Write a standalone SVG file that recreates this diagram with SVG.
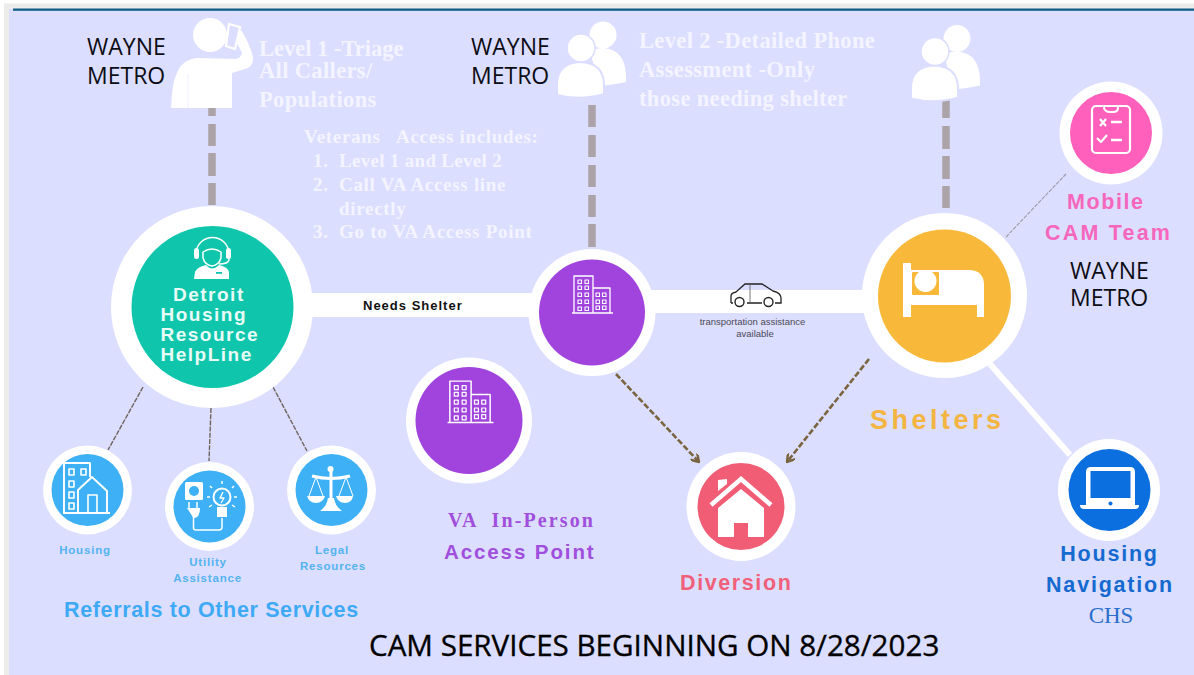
<svg xmlns="http://www.w3.org/2000/svg" width="1194" height="675" viewBox="0 0 1194 675">
<style>
.w{font-family:"Open Sans","Liberation Sans",sans-serif;font-size:23px;fill:#0c0c14}
.s{font-family:"Liberation Serif",serif;font-weight:700;fill:#f3f4ff;font-size:22.5px;letter-spacing:.35px}
.l{font-family:"Liberation Sans",Arial,sans-serif;font-weight:700}
.i{fill:none;stroke:#fff;stroke-linejoin:round}
.ring{fill:#fff}
</style>
<defs>
<marker id="ah" viewBox="0 0 10 10" refX="9" refY="5" markerWidth="3.600" markerHeight="3.600" orient="auto"><path d="M1 0L9 5L1 10" fill="none" stroke="#7a6540" stroke-width="2.600"/></marker>
<g id="people"><circle cx="603" cy="35" r="13.500" fill="#fff"/><path d="M590 52Q594 48 604 48Q626 50 626 78L626 82Q618 84 600 86Z" fill="#fff"/><path d="M557 95L557 85Q557 63 580 62Q604 63 604 85L604 94Q580 101 557 95Z" fill="#fff" stroke="#dcdeff" stroke-width="2"/><circle cx="581" cy="48" r="14" fill="#fff" stroke="#dcdeff" stroke-width="1.500"/></g>
<g id="bld">
<path class="i" stroke-width="1.300" d="M-20 13H21M-18 13V-24H1V13M1 -12H18V13"/>
<path class="i" stroke-width="1.100" d="M-14 -20h3.500v3.500h-3.500zM-7 -20h3.500v3.500h-3.500zM-14 -14h3.500v3.500h-3.500zM-7 -14h3.500v3.500h-3.500zM-14 -7h3.500v3.500h-3.500zM-7 -7h3.500v3.500h-3.500zM-14 0h3.500v3.500h-3.500zM-7 0h3.500v3.500h-3.500zM-14 7h3.500v3.500h-3.500zM-7 7h3.500v3.500h-3.500zM4 -7h3.500v3.500h-3.500zM10.500 -7h3.500v3.500h-3.500zM4 0h3.500v3.500h-3.500zM10.500 0h3.500v3.500h-3.500zM4 6h3.500v3.500h-3.500zM10.500 6h3.500v3.500h-3.500z"/>
</g>
</defs>
<rect width="1194" height="675" fill="#fff"/>
<rect x="4" y="3.500" width="1190" height="671.500" fill="#ececea"/>
<rect x="9" y="9" width="1185" height="666" fill="#dcdeff"/>
<rect x="13" y="8.500" width="1181" height="2.300" fill="#145f86"/>

<g id="connectors">
<rect x="305" y="293" width="230" height="24" fill="#fff"/>
<rect x="645" y="290" width="225" height="23" fill="#fff"/>
<path d="M990 364L1070 455" stroke="#fff" stroke-width="6"/>
<path d="M212 108V116M212 124V146M212 153V176M212 183V205" stroke="#aba3a8" stroke-width="7.500"/>
<path d="M592 105V127M592 135V157M592 165V187M592 195V217M592 224V247" stroke="#aba3a8" stroke-width="7.500"/>
<path d="M946 100V118M946 126V149M946 156V179M946 186V208" stroke="#aba3a8" stroke-width="7.500"/>
<g fill="none" stroke="#6f6460" stroke-width="1.400" stroke-dasharray="5 1.200">
<path d="M143 387L108 450"/><path d="M211 408L209 461"/><path d="M273 387L307 451"/>
</g>
<path d="M1006 237L1066 174" fill="none" stroke="#9a9aa6" stroke-width="1.100" stroke-dasharray="4 1.200"/>
<path d="M616 374L699 462" fill="none" stroke="#7a6540" stroke-width="2.600" stroke-dasharray="6 2.200" marker-end="url(#ah)"/>
<path d="M869 359L787 462" fill="none" stroke="#7a6540" stroke-width="2.600" stroke-dasharray="6 2.200" marker-end="url(#ah)"/>
</g>

<g id="caller">
<path d="M171 108L172 93Q174 76 180 67Q186 59 197 58L236 59Q241 58 242 53L234 37L241 30Q250 44 253 57Q254 64 248 68L232 73V108Z" fill="#fff"/>
<path d="M188 108V74" stroke="#eef0ff" stroke-width="1"/>
<path d="M229 24L240 27L235 49L226 46Z" fill="#dcdeff" stroke="#fff" stroke-width="2.200"/>
<circle cx="210" cy="35" r="17" fill="#fff"/>
<text class="w" x="87" y="55">WAYNE</text><text class="w" x="87" y="84">METRO</text>
</g>
<g id="level1" class="s"><text x="259" y="56" style="letter-spacing:0">Level 1 -Triage</text><text x="259" y="78">All Callers/</text><text x="259" y="107">Populations</text></g>
<g id="veterans" class="s" style="font-size:19px;letter-spacing:.7px">
<text x="304" y="143" xml:space="preserve">Veterans   Access includes:</text>
<text x="313" y="167">1.</text><text x="339" y="167" style="letter-spacing:.3px">Level 1 and Level 2</text>
<text x="313" y="191">2.</text><text x="339" y="191">Call VA Access line</text>
<text x="339" y="215">directly</text>
<text x="313" y="238">3.</text><text x="339" y="238">Go to VA Access Point</text>
</g>
<g id="level2-people"><use href="#people"/><text class="w" x="471" y="55">WAYNE</text><text class="w" x="471" y="84">METRO</text></g>
<g id="level2" class="s"><text x="639" y="48">Level 2 -Detailed Phone</text><text x="639" y="77">Assessment -Only</text><text x="639" y="106">those needing shelter</text></g>
<g id="shelter-people"><use href="#people" x="354" y="3.500"/></g>

<g id="helpline">
<circle class="ring" cx="212" cy="307" r="101"/><circle cx="212.500" cy="307" r="81" fill="#0fc6ad"/>
<path d="M196 258V254A16.500 16.500 0 0 1 229 254V260Q228 264 219 264" class="i" stroke-width="1.400"/>
<rect x="194" y="248" width="5" height="11" rx="2.500" fill="#fff"/><rect x="226" y="248" width="5" height="11" rx="2.500" fill="#fff"/>
<path d="M203 252Q212 246 221 252V258Q219 265 212 266Q205 265 203 258Z" class="i" stroke-width="1.500"/>
<path d="M194 279L195 272Q197 267 206 265Q212 272 219 265Q228 267 229 272V279Z" fill="#fff"/>
<rect x="216" y="272" width="6" height="1.800" fill="#0fc6ad"/>
<g class="l" fill="#e8fbf6" font-size="19px" letter-spacing="1.500"><text x="173" y="301">Detroit</text><text x="160.500" y="321">Housing</text><text x="160.500" y="341">Resource</text><text x="160.500" y="361">HelpLine</text></g>
</g>
<g id="needs-shelter"><text class="l" x="363" y="310" font-size="13px" letter-spacing="1" fill="#111">Needs Shelter</text></g>

<g id="access-point">
<circle class="ring" cx="592" cy="312.500" r="63.500"/><circle cx="592" cy="312.500" r="53" fill="#a044dd"/>
<use href="#bld" x="592" y="300"/>
</g>
<g id="transport">
<path d="M731 303V296Q731 293 736 292L745 284H762L773 291Q781 293 781 298V303H775M762 303H747M733 303H731" fill="none" stroke="#222" stroke-width="1.300"/>
<path d="M750 284V303" stroke="#555" stroke-width=".8"/>
<circle cx="739.500" cy="302" r="4.500" fill="#fff" stroke="#222" stroke-width="1.400"/><circle cx="768.500" cy="302" r="4.500" fill="#fff" stroke="#222" stroke-width="1.400"/>
<g font-family="'Liberation Sans',Arial,sans-serif" font-size="9.500px" fill="#4a4a55" text-anchor="middle"><text x="752.500" y="325">transportation assistance</text><text x="755" y="337">available</text></g>
</g>
<g id="shelters">
<circle class="ring" cx="944.500" cy="295.500" r="82.500"/><circle cx="944.500" cy="296" r="66.500" fill="#f8b93b"/>
<path d="M903 263H911V270H970Q984 271 984 285V317H977V305H911V317H903Z" fill="#fff"/>
<rect x="912" y="272" width="27" height="23" rx="1" fill="#f8b93b"/>
<circle cx="925.500" cy="281" r="11" fill="#fff"/>
<text class="l" x="870" y="429" font-size="27px" letter-spacing="3.500" fill="#f3b540">Shelters</text>
</g>
<g id="mobile">
<circle class="ring" cx="1111" cy="133" r="51.500"/><circle cx="1111" cy="133" r="41" fill="#ff60bb"/>
<rect x="1092" y="106" width="38" height="47" rx="4" class="i" stroke-width="2.200"/>
<path d="M1104 106V108Q1105 112 1110 112H1113Q1118 112 1118 108V106" class="i" stroke-width="2"/>
<path d="M1100 119L1106 126M1106 119L1100 126M1097 138L1101 142L1107 135" class="i" stroke-width="2.200"/>
<path d="M1111 122H1122M1111 140H1122" class="i" stroke-width="2.500"/>
<g class="l" fill="#f567bd" font-size="21.500px" letter-spacing="1.600"><text x="1067" y="209">Mobile</text><text x="1045" y="240" letter-spacing="2.200">CAM Team</text></g>
<text class="w" x="1070" y="279">WAYNE</text><text class="w" x="1070" y="306">METRO</text>
</g>
<g id="nav">
<circle class="ring" cx="1109" cy="490" r="51"/><circle cx="1109.500" cy="490" r="41" fill="#0c6fe0"/>
<path d="M1086 506V472Q1086 467 1091 467H1130Q1135 467 1135 472V506Z" fill="#fff"/>
<rect x="1090.500" y="471" width="40" height="27" fill="#0c6fe0"/>
<path d="M1080 505H1139Q1139 509 1135 509H1084Q1080 509 1080 505Z" fill="#fff"/>
<circle cx="1110.500" cy="503.500" r="2" fill="#0c6fe0"/>
<g class="l" fill="#156ad0" font-size="21.500px" letter-spacing="1.800" text-anchor="middle"><text x="1109.500" y="561">Housing</text><text x="1110" y="592">Navigation</text></g>
<text x="1111" y="623" font-family="'Liberation Serif',serif" font-size="23px" fill="#2a6fcc" text-anchor="middle">CHS</text>
</g>
<g id="diversion">
<circle class="ring" cx="741" cy="506.500" r="54.500"/><circle cx="741" cy="506.500" r="43.500" fill="#f05d74"/>
<path d="M718 480V491L727 484V479Z" fill="#fff"/>
<path d="M711 505L741 479L771 505" fill="none" stroke="#fff" stroke-width="4.500"/>
<path d="M718 537V508L741 489L764 508V537H748V523H734V537Z" fill="#fff"/>
<text class="l" x="680" y="590" font-size="21.500px" letter-spacing="1.600" fill="#f0607a">Diversion</text>
</g>
<g id="va-point">
<circle class="ring" cx="469" cy="420.500" r="63"/><circle cx="469" cy="420.500" r="53.500" fill="#a044dd"/>
<use href="#bld" transform="translate(470 408) scale(1.120)"/>
<text x="448" y="527" font-family="'Liberation Serif',serif" font-weight="700" font-size="20px" letter-spacing="2.100" fill="#a04fdd" xml:space="preserve">VA  In-Person</text>
<text class="l" x="444" y="559" font-size="20.500px" letter-spacing="1.900" fill="#a04fdd">Access Point</text>
</g>
<g id="housing">
<circle class="ring" cx="87.500" cy="490" r="44.500"/><circle cx="87.500" cy="490" r="36" fill="#3eb0f5"/>
<path d="M64 463H90V477M64 463V513M63 513H110M78 513V490L92 477L107 491V513" class="i" stroke-width="1.900"/>
<path d="M69 469h5v6h-5zM81 469h5v6h-5zM69 481h5v6h-5zM69 492h5v6h-5zM69 503h5v6h-5zM88 495h9v18h-9z" class="i" stroke-width="1.600"/>
<text class="l" x="85" y="554" font-size="11.500px" letter-spacing=".8" fill="#52b4f2" text-anchor="middle">Housing</text>
</g>
<g id="utility">
<circle class="ring" cx="209.500" cy="506.500" r="44.500"/><circle cx="209.500" cy="506.500" r="36" fill="#3eb0f5"/>
<rect x="185" y="482" width="18" height="18" rx="1.500" fill="#fff"/><circle cx="194" cy="491" r="5" fill="#3eb0f5"/>
<path d="M189 502V508M197 502V508" class="i" stroke-width="1.500"/>
<path d="M187 508H200Q200 518 193.500 518Z" fill="#fff"/>
<path d="M193.500 516V528Q193.500 530 196 530H219Q222 530 222 527V518" class="i" stroke-width="1.500"/>
<circle cx="222" cy="497" r="8.500" class="i" stroke-width="2"/>
<path d="M217 507H227V517H217Z" fill="#fff"/>
<path d="M223 492L220 498H224L221 503" class="i" stroke-width="1.300"/>
<path d="M222 481V484M210 486L212 488M234 486L232 488M207 497H210M234 497H237M209 507L212 505M235 507L232 505" class="i" stroke-width="1.500"/>
<g class="l" font-size="11.500px" letter-spacing=".8" fill="#52b4f2" text-anchor="middle"><text x="208" y="566">Utility</text><text x="207.500" y="582">Assistance</text></g>
</g>
<g id="legal">
<circle class="ring" cx="331.500" cy="490" r="44.500"/><circle cx="331.500" cy="490" r="36" fill="#3eb0f5"/>
<path d="M331 470V504M312 476Q331 481 350 476" class="i" stroke-width="3"/>
<circle cx="330.500" cy="469" r="3" fill="#fff"/>
<path d="M320 511H342Q335 506 334 498H328Q327 506 320 511Z" fill="#fff"/>
<path d="M316 477L309 496M316 477L323 496M346 477L339 496M346 477L353 496" class="i" stroke-width="1"/>
<path d="M307 496H325Q323 503 316 503Q309 503 307 496ZM336 496H353Q352 503 345 503Q338 503 336 496Z" fill="#fff"/>
<g class="l" font-size="11.500px" letter-spacing=".8" fill="#52b4f2" text-anchor="middle"><text x="332" y="554">Legal</text><text x="333" y="570">Resources</text></g>
</g>
<g id="referrals"><text class="l" x="64" y="617" font-size="21.500px" letter-spacing=".65" fill="#3eaaf5">Referrals to Other Services</text></g>
<g id="title"><text x="369" y="656" font-family="'Open Sans','Liberation Sans',sans-serif" font-size="29.600px" fill="#000" stroke="#000" stroke-width=".35">CAM SERVICES BEGINNING ON 8/28/2023</text></g>
</svg>
